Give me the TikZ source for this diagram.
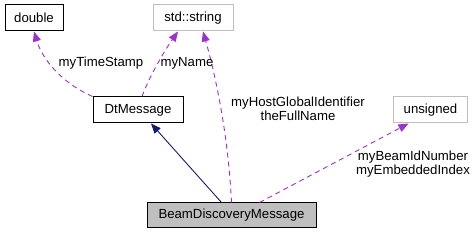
\documentclass[tikz,border=0pt]{standalone}
\usepackage{fontspec}
\setmainfont{Liberation Sans}
\usetikzlibrary{arrows.meta}
\definecolor{edgepurple}{HTML}{9A32CD}
\definecolor{navyedge}{HTML}{191970}
\definecolor{lightborder}{HTML}{BFBFBF}
\definecolor{grayfill}{HTML}{BFBFBF}
\begin{document}
\begin{tikzpicture}[x=1pt,y=-1pt,
  font=\fontsize{13.2}{14}\selectfont,
  cls/.style={draw=black, line width=1pt, fill=white, minimum height=26pt, inner sep=0pt},
  ext/.style={cls, draw=lightborder},
  cur/.style={cls, fill=grayfill},
  dep/.style={draw=edgepurple, line width=0.9pt, dash pattern=on 5pt off 4pt,
              -{Triangle[length=10pt,width=8pt]}, color=edgepurple},
  inh/.style={draw=navyedge, line width=0.9pt, -{Triangle[length=10pt,width=8pt]}, color=navyedge},
  lbl/.style={align=center, inner sep=0pt, text=black}]
\useasboundingbox (0,0) rectangle (475,235);
\node[cls, minimum width=58pt] (dbl) at (34,18) {double};
\node[ext, minimum width=80pt] (str) at (193,18) {std::string};
\node[cls, minimum width=90pt] (dt) at (138,110) {DtMessage};
\node[ext, minimum width=74pt] (uns) at (430.5,110) {unsigned};
\node[cur, minimum width=169pt, minimum height=25pt] (bdm) at (231.5,215.5) {BeamDiscoveryMessage};

\draw[dep] (dt.north west) .. controls (60,82) and (42,58) .. (dbl.south);
\draw[dep] ([xshift=4pt]dt.north) .. controls (150,75) and (165,50) .. ([xshift=-15pt]str.south);
\draw[dep] (bdm.north) .. controls (228,130) and (214,70) .. ([xshift=10pt]str.south);
\draw[dep] ([xshift=28pt]bdm.north) -- ([xshift=-22pt]uns.south);
\draw[inh] ([xshift=-10pt]bdm.north) -- ([xshift=13pt]dt.south);

\node[lbl] (l1) at (101,63) {myTimeStamp};
\node[lbl] (l2) at (187,63) {myName};
\node[lbl] (l3) at (298,109) {myHostGlobalIdentifier\\theFullName};
\node[lbl] (l4) at (413,164) {myBeamIdNumber\\myEmbeddedIndex};
\end{tikzpicture}
\end{document}
